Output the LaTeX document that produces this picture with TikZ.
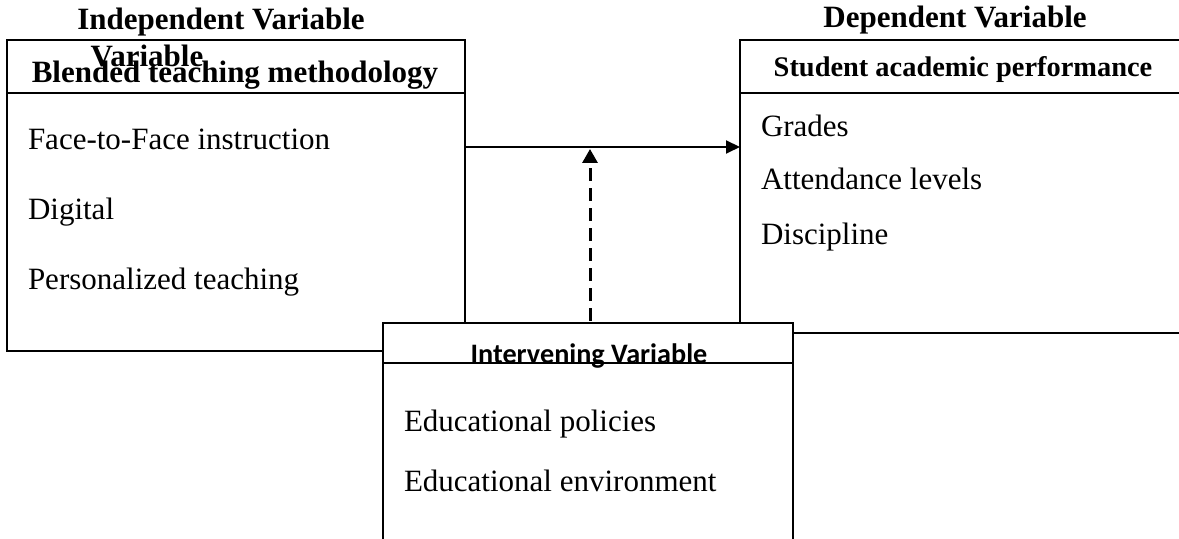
\documentclass[tikz,border=0pt]{standalone}
\usepackage{fontspec}
\setmainfont{Liberation Serif}
\newfontfamily\calibri{Carlito}
\usetikzlibrary{arrows.meta}

\tikzset{
  item/.style={anchor=base west, inner sep=0pt, font=\fontsize{15.5}{18}\selectfont},
  heading/.style={anchor=base, inner sep=0pt, font=\fontsize{15.5}{18}\selectfont\bfseries},
  link/.style={line width=1pt, -{Triangle[length=7pt,width=6.5pt]}},
  moderates/.style={line width=1.5pt, dash pattern=on 6.5pt off 3.5pt, -{Triangle[length=7pt,width=7.5pt]}}
}

\begin{document}
\begin{tikzpicture}[x=0.5pt, y=-0.5pt, line width=1pt]
		\useasboundingbox (0,0) rectangle (1179,539);
		% independent variable box
		\draw (7,40) rectangle (465,351);
		\draw (7,93) -- (465,93);
		\coordinate (indep) at (465,147);
		% dependent variable box, open to the right
		\draw (1179,40) -- (740,40) -- (740,333) -- (1179,333);
		\draw (740,93) -- (1179,93);
		\coordinate (dep) at (740,147);
		% intervening variable box, open at the bottom
		\draw[fill=white] (383,545) -- (383,323) -- (793,323) -- (793,545);
		\draw (383,363) -- (793,363);
		\coordinate (interv) at (590,321);
		\coordinate (effect) at (590,149);
		% titles
		\node[heading] (indeptitle) at (221,30) {Independent Variable};
		\node[heading] (deptitle) at (955,28) {Dependent Variable};
		\node[heading] (extra) at (147,67) {Variable};
		\node[heading] (blended) at (235,83) {Blended teaching methodology};
		\node[heading, font=\fontsize{14.2}{17}\selectfont\bfseries] (perf) at (963,77) {Student academic performance};
		\node[heading, font=\fontsize{14.1}{17}\selectfont\calibri\bfseries] (intervtitle) at (589,364) {Intervening Variable};
		% items
		\node[item] (face) at (27,150) {Face-to-Face instruction};
		\node[item] (digital) at (27,220) {Digital};
		\node[item] (personal) at (27,290) {Personalized teaching};
		\node[item] (grades) at (760,137) {Grades};
		\node[item] (attend) at (760,190) {Attendance levels};
		\node[item] (discip) at (760,245) {Discipline};
		\node[item] (policies) at (403,432) {Educational policies};
		\node[item] (environ) at (403,492) {Educational environment};
		% arrows
		\draw[link] (indep) -- (dep);
		\draw[moderates] (interv) -- (effect);
\end{tikzpicture}
\end{document}
